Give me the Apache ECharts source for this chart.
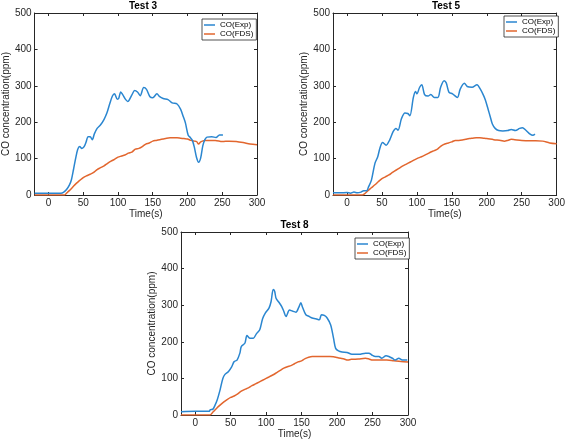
<!DOCTYPE html>
<html>
<head>
<meta charset="utf-8">
<script src="https://cdn.jsdelivr.net/npm/echarts@6/dist/echarts.min.js"></script>
<style>html,body{margin:0;padding:0;background:#fff}#c{width:568px;height:442px}</style>
</head>
<body>
<div id="c"></div>
<script>
// ---- data (time s, CO ppm) ----
const titles = ['Test 3', 'Test 5', 'Test 8'];
const seriesNames = ['CO(Exp)', 'CO(FDS)'];
const xTicks = [0, 50, 100, 150, 200, 250, 300];
const yTicks = [0, 100, 200, 300, 400, 500];

const test3Exp = [[-20,5],[0,5],[18,5],[22,8],[26,15],[30,27],[33,42],[36,70],[39,100],[42,125],[45,133],[48,128],[51,132],[54,145],[57,160],[60,160],[63,152],[66,168],[70,183],[75,193],[80,208],[84,225],[88,250],[92,272],[95,278],[99,263],[101,265],[104,283],[107,275],[110,265],[114,257],[120,275],[124,287],[128,283],[132,273],[137,295],[141,290],[146,270],[150,267],[156,278],[160,270],[165,265],[172,262],[178,253],[185,250],[190,236],[194,215],[197,198],[201,164],[204,158],[207,150],[210,130],[213,103],[216,90],[219,102],[222,135],[225,152],[228,159],[235,160],[241,158],[246,165],[251,165]];
const test3FDS = [[-20,0],[23,0],[26,5],[30,12],[35,22],[40,32],[45,40],[50,48],[55,53],[60,57],[65,62],[70,70],[75,75],[80,80],[85,87],[90,93],[95,98],[100,104],[105,107],[110,110],[115,115],[120,118],[125,126],[130,128],[135,133],[140,140],[145,143],[150,148],[155,150],[160,152],[165,154],[170,156],[175,157],[180,157],[185,157],[190,156],[195,155],[200,154],[205,150],[210,148],[213,147],[216,140],[219,146],[225,150],[230,150],[240,150],[250,147],[260,148],[270,147],[280,144],[290,140],[300,138]];

const test5Exp = [[-20,6],[-10,6],[0,7],[5,5],[10,8],[15,6],[20,8],[24,12],[28,12],[31,23],[35,41],[40,87],[44,105],[47,128],[51,144],[56,137],[61,151],[66,174],[70,183],[73,178],[78,210],[83,225],[87,224],[90,218],[95,268],[98,284],[100,278],[104,296],[107,303],[111,276],[116,272],[120,276],[125,268],[130,268],[134,296],[139,314],[142,308],[146,282],[151,278],[158,268],[162,291],[168,307],[172,298],[179,296],[186,303],[191,290],[195,275],[198,261],[202,235],[205,215],[208,195],[212,183],[217,177],[223,176],[230,177],[235,180],[241,177],[247,183],[251,185],[256,178],[262,167],[266,164],[269,167]];
const test5FDS = [[-20,0],[22,0],[25,3],[30,12],[35,20],[40,28],[45,37],[50,45],[55,50],[60,55],[65,62],[70,68],[75,74],[80,80],[85,85],[90,90],[95,95],[100,100],[105,104],[110,108],[115,113],[120,118],[125,122],[130,127],[135,135],[140,140],[145,143],[150,146],[155,150],[160,150],[165,151],[170,153],[175,155],[180,156],[185,157],[190,157],[195,156],[200,155],[210,152],[220,150],[225,148],[230,150],[235,153],[240,152],[250,150],[260,149],[270,149],[280,148],[290,143],[300,141]];

const test8Exp = [[-20,9],[0,10],[20,10],[21,14],[25,16],[28,27],[31,41],[35,68],[39,100],[42,111],[47,119],[51,130],[55,146],[59,150],[63,169],[65,187],[70,196],[73,217],[77,210],[82,210],[86,221],[91,233],[95,263],[99,279],[104,292],[107,310],[110,343],[112,338],[114,319],[118,308],[122,296],[125,283],[128,269],[133,287],[137,284],[142,281],[146,294],[149,307],[151,296],[156,274],[161,269],[165,265],[170,263],[175,260],[178,274],[182,272],[186,265],[191,246],[195,210],[198,182],[202,175],[207,172],[214,171],[221,166],[231,166],[240,169],[245,169],[249,164],[254,160],[259,160],[263,155],[269,162],[273,160],[278,155],[282,150],[287,155],[292,150],[299,150]];
const test8FDS = [[-20,0],[21,0],[25,8],[30,18],[35,27],[40,35],[45,42],[50,48],[55,52],[60,58],[65,65],[70,70],[75,74],[80,80],[85,85],[90,90],[95,95],[100,100],[105,105],[110,110],[115,116],[120,122],[125,128],[130,132],[135,135],[140,140],[145,145],[150,148],[155,154],[160,158],[165,160],[170,160],[180,160],[190,160],[195,159],[200,157],[205,155],[210,153],[215,150],[220,152],[230,153],[240,155],[245,153],[250,150],[260,150],[270,150],[280,148],[290,146],[300,145]];

const panelData = [[test3Exp, test3FDS], [test5Exp, test5FDS], [test8Exp, test8FDS]];

// ---- layout / style ----
const FONT = '"Liberation Sans", Arial, sans-serif';
const AX = '#262626';
const COLORS = ['#2a86d0', '#e2662e'];
const gridPos = [
  {left: 29, top: 13, width: 228, height: 182},
  {left: 333, top: 13, width: 226, height: 182},
  {left: 181, top: 232, width: 227, height: 183}
];
const legendPos = [{left: 202, top: 19}, {left: 504, top: 16}, {left: 355, top: 238}];
const yNameGap = [21, 22, 24];

const chart = echarts.init(document.getElementById('c'), null, {renderer: 'canvas'});

const xAxis = [], yAxis = [], series = [], graphic = [], legend = [];
gridPos.forEach((g, i) => {
  const common = {
    type: 'value', gridIndex: i,
    axisLine: {show: true, onZero: false, lineStyle: {color: AX, width: 1}},
    axisTick: {show: true, inside: true, length: 3, lineStyle: {color: AX}},
    splitLine: {show: false}
  };
  xAxis.push(Object.assign({}, common, {
    position: 'bottom', min: -20, max: 300,
    axisTick: Object.assign({}, common.axisTick, {customValues: xTicks}),
    axisLabel: {customValues: xTicks, color: AX, fontSize: 10, fontFamily: FONT, margin: 3},
    name: 'Time(s)', nameLocation: 'middle', nameGap: 14,
    nameTextStyle: {color: AX, fontSize: 10, fontFamily: FONT}
  }));
  xAxis.push(Object.assign({}, common, {
    position: 'top', min: -20, max: 300,
    axisTick: Object.assign({}, common.axisTick, {customValues: xTicks}),
    axisLabel: {show: false}
  }));
  yAxis.push(Object.assign({}, common, {
    position: 'left', min: 0, max: 500,
    axisTick: Object.assign({}, common.axisTick, {customValues: yTicks}),
    axisLabel: {customValues: yTicks, color: AX, fontSize: 10, fontFamily: FONT, margin: 3},
    name: 'CO concentration(ppm)', nameLocation: 'middle', nameGap: yNameGap[i],
    nameTextStyle: {color: AX, fontSize: 10, fontFamily: FONT}
  }));
  yAxis.push(Object.assign({}, common, {
    position: 'right', min: 0, max: 500,
    axisTick: Object.assign({}, common.axisTick, {customValues: yTicks}),
    axisLabel: {show: false}
  }));
  panelData[i].forEach((d, k) => {
    series.push({
      type: 'line', name: seriesNames[k], data: d,
      xAxisIndex: i * 2, yAxisIndex: i * 2,
      showSymbol: false, smooth: 0.3,
      lineStyle: {color: COLORS[k], width: 1.5},
      itemStyle: {color: COLORS[k]},
      animation: false, z: k === 0 ? 3 : 2
    });
  });
  graphic.push({
    type: 'text', x: g.left + g.width / 2, y: g.top - 7,
    style: {text: titles[i], align: 'center', verticalAlign: 'middle',
      font: 'bold 10px ' + FONT, fill: '#000'}
  });
  legend.push({
    data: seriesNames, orient: 'vertical', left: legendPos[i].left, top: legendPos[i].top,
    icon: 'rect', itemWidth: 11, itemHeight: 1.5, itemGap: 1,
    padding: [2, 3, 2, 2], borderColor: AX, borderWidth: 0.8, backgroundColor: '#fff',
    selectedMode: false,
    textStyle: {fontSize: 8, color: '#000', fontFamily: FONT}
  });
});

chart.setOption({
  animation: false,
  backgroundColor: '#fff',
  grid: gridPos.map(g => Object.assign({containLabel: false}, g)),
  xAxis, yAxis, series, legend, graphic
});
</script>
</body>
</html>
